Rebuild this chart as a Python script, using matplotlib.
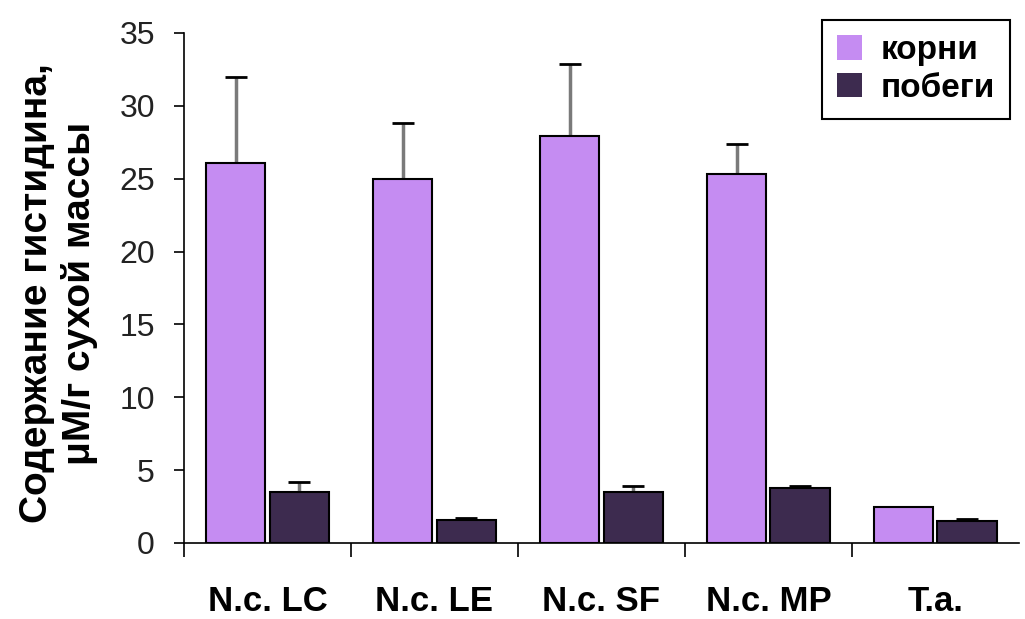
import numpy as np
import matplotlib
matplotlib.use('Agg')
import matplotlib.pyplot as plt

plt.rcParams['font.family'] = ['Liberation Sans', 'DejaVu Sans']

### ----- data ----- ###
categories = ['N.c. LC', 'N.c. LE', 'N.c. SF', 'N.c. MP', 'T.a.']
roots = [26.1, 24.95, 27.95, 25.3, 2.5]
roots_err = [5.9, 3.9, 4.9, 2.1, 0.0]
shoots = [3.5, 1.6, 3.5, 3.8, 1.5]
shoots_err = [0.7, 0.12, 0.4, 0.1, 0.15]

root_color = '#C58CF2'
shoot_color = '#3D2B4F'

fig = plt.figure(figsize=(10.25, 6.19), dpi=100)
ax = fig.add_axes([0.1795, 0.1228, 0.8145, 0.8239])

x = np.arange(len(categories))
w = 0.355
off = 0.19

ax.bar(x - off, roots, w, color=root_color, edgecolor='black', linewidth=1.5,
       label='корни', zorder=2)
ax.bar(x + off, shoots, w, color=shoot_color, edgecolor='black', linewidth=1.5,
       label='побеги', zorder=2)

# error bars: gray stems, black caps
for xs, vals, errs in [(x - off, roots, roots_err), (x + off, shoots, shoots_err)]:
    eb = ax.errorbar(xs, vals, yerr=[np.zeros(len(errs)), errs], fmt='none',
                     ecolor='#7a7a7a', elinewidth=2.5, capsize=8, capthick=2,
                     zorder=1)
    for cl in eb[1]:
        cl.set_markeredgecolor('black')
        cl.set_color('black')

ax.set_xlim(-0.5, 4.5)
ax.set_ylim(0, 35)
ax.set_yticks(np.arange(0, 36, 5))
ax.tick_params(axis='y', labelsize=23, labelcolor='#222222', length=7,
               width=1.2, direction='out', pad=14)

ax.set_xticks(x)
ax.set_xticklabels(categories, fontsize=25, fontweight='bold')
ax.tick_params(axis='x', length=0, pad=30)
ax.set_xticks(np.arange(-0.5, 4.0, 1.0), minor=True)
ax.tick_params(axis='x', which='minor', length=10, width=1.2, direction='out')

ax.spines['top'].set_visible(False)
ax.spines['right'].set_visible(False)
ax.spines['left'].set_linewidth(1.2)
ax.spines['bottom'].set_linewidth(1.2)

ax.set_ylabel('Содержание гистидина,\nμМ/г сухой массы', fontsize=28,
              fontweight='bold', linespacing=1.2, va='center')
ax.yaxis.set_label_coords(-0.15, 0.49)

leg = ax.legend(loc='upper right', bbox_to_anchor=(0.989, 1.025), fancybox=False,
                edgecolor='black', framealpha=1, prop={'size': 24, 'weight': 'bold'},
                handlelength=0.75, handleheight=0.75, handletextpad=0.55,
                borderpad=0.45, labelspacing=0.2, borderaxespad=0)
leg.get_frame().set_linewidth(1.5)
for h in leg.legend_handles:
    h.set_edgecolor('none')

fig.savefig('out.png', dpi=100)
